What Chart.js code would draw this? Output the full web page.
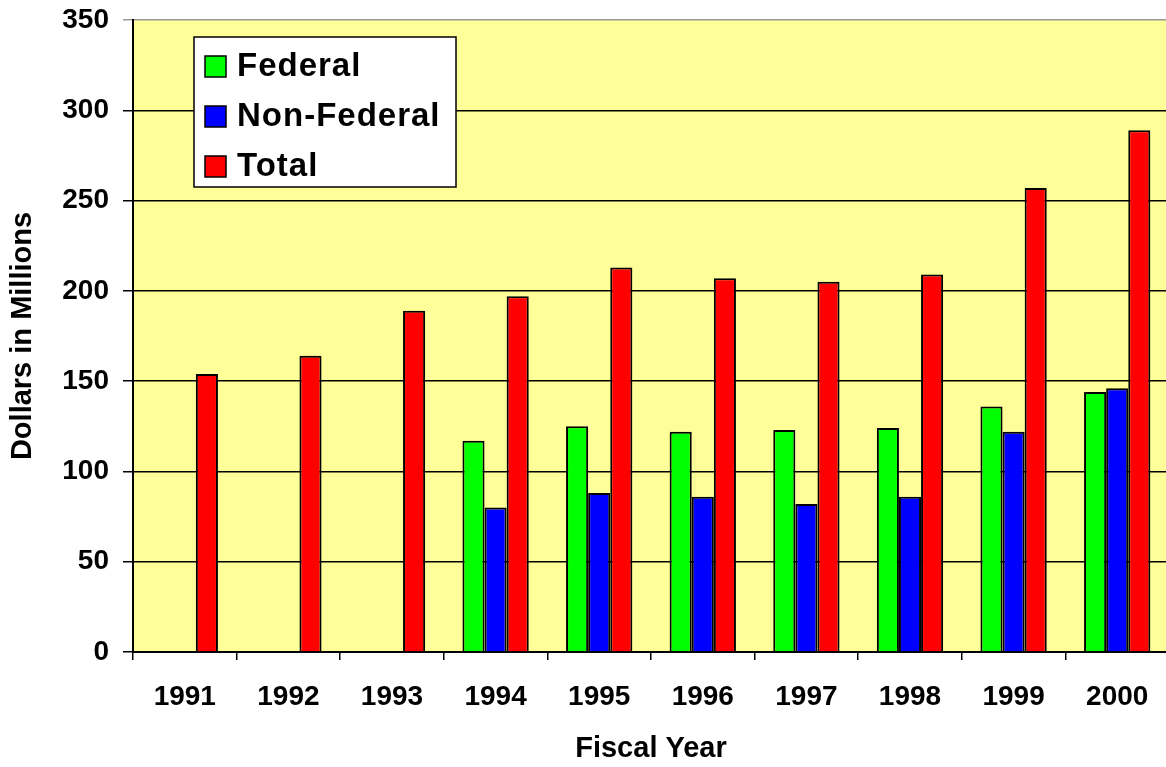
<!DOCTYPE html>
<html>
<head>
<meta charset="utf-8">
<script src="https://cdn.jsdelivr.net/npm/chart.js@4/dist/chart.umd.min.js"></script>
<style>
  html, body { margin: 0; padding: 0; background: #fff; overflow: hidden; }
  #wrap { width: 1172px; height: 767px; }
</style>
</head>
<body>
<div id="wrap"><canvas id="grafica" width="1172" height="767"></canvas></div>
<script>
// Datos del gráfico
const years = ['1991', '1992', '1993', '1994', '1995', '1996', '1997', '1998', '1999', '2000'];
const federal = [null, null, null, 117, 125, 122, 123, 124, 136, 144];
const nonFederal = [null, null, null, 80, 88, 86, 82, 86, 122, 146];
const total = [154, 164, 189, 197, 213, 207, 205, 209, 257, 289];
const yTicks = [0, 50, 100, 150, 200, 250, 300, 350];

const fontFamily = '"Liberation Sans", Arial, sans-serif';

// Fondo amarillo del área de trazado
const fondoPlugin = {
    id: 'fondo',
    beforeDraw(chart) {
        const { ctx, chartArea } = chart;
        ctx.save();
        ctx.fillStyle = '#FFFF99';
        ctx.fillRect(chartArea.left, chartArea.top, chartArea.right - chartArea.left, chartArea.bottom - chartArea.top);
        ctx.restore();
    }
};

// Leyenda dentro del área del gráfico
const leyendaPlugin = {
    id: 'leyenda',
    afterDraw(chart) {
        const ctx = chart.ctx;
        const x = 194, y = 37, w = 262, h = 150;
        ctx.save();
        ctx.fillStyle = '#fff';
        ctx.fillRect(x, y, w, h);
        ctx.strokeStyle = '#000';
        ctx.lineWidth = 1.5;
        ctx.strokeRect(x, y, w, h);
        ctx.font = 'bold 33px ' + fontFamily;
        ctx.textBaseline = 'middle';
        ctx.letterSpacing = '1px';
        chart.data.datasets.forEach((ds, i) => {
            const cy = 66 + i * 50;
            ctx.fillStyle = ds.backgroundColor;
            ctx.fillRect(205, cy - 10, 21, 21);
            ctx.strokeStyle = '#000';
            ctx.lineWidth = 1.5;
            ctx.strokeRect(205, cy - 10, 21, 21);
            ctx.fillStyle = '#000';
            ctx.fillText(ds.label, 237, cy + 1);
        });
        ctx.restore();
    }
};

new Chart(document.getElementById('grafica'), {
    type: 'bar',
    data: {
        labels: years,
        datasets: [
            { label: 'Federal', data: federal, backgroundColor: '#00FF00', borderColor: '#000', borderWidth: 2 },
            { label: 'Non-Federal', data: nonFederal, backgroundColor: '#0000FF', borderColor: '#000', borderWidth: 2 },
            { label: 'Total', data: total, backgroundColor: '#FF0000', borderColor: '#000', borderWidth: 2 }
        ]
    },
    options: {
        responsive: false,
        animation: false,
        layout: { padding: { top: 20, right: 3, left: 0, bottom: 0 } },
        datasets: { bar: { categoryPercentage: 0.64, barPercentage: 1 } },
        plugins: {
            legend: { display: false },
            tooltip: { enabled: false }
        },
        scales: {
            x: {
                afterFit(scale) { scale.height = 115; },
                grid: { drawOnChartArea: false, drawTicks: true, tickLength: 8, color: '#000', lineWidth: 1.5 },
                border: { color: '#000', width: 2 },
                ticks: { color: '#000', font: { family: fontFamily, size: 28, weight: 'bold' }, padding: 20, maxRotation: 0 },
                title: {
                    display: true, text: 'Fiscal Year', color: '#000',
                    font: { family: fontFamily, size: 29, weight: 'bold' },
                    padding: { top: 0, bottom: 1 }
                }
            },
            y: {
                min: 0,
                max: 350,
                afterFit(scale) {
                    scale.width = 133;
                    scale.paddingTop = 0;
                    scale.paddingBottom = 0;
                },
                afterBuildTicks(scale) { scale.ticks = yTicks.map(v => ({ value: v })); },
                grid: {
                    color: c => (c.tick && c.tick.value === 350) ? '#999' : '#000',
                    lineWidth: 1.5,
                    tickLength: 10
                },
                border: { color: '#000', width: 2 },
                ticks: { color: '#000', font: { family: fontFamily, size: 28, weight: 'bold' }, padding: 14 },
                title: {
                    display: true, text: 'Dollars in Millions', color: '#000',
                    font: { family: fontFamily, size: 29, weight: 'bold' },
                    padding: { top: 6, bottom: 0 }
                }
            }
        }
    },
    plugins: [fondoPlugin, leyendaPlugin]
});
</script>
</body>
</html>
